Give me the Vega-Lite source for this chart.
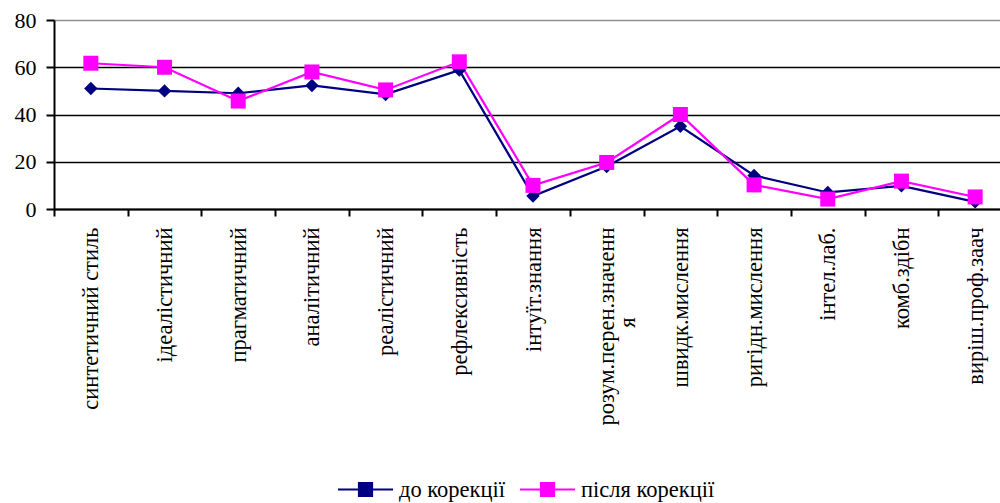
{
  "$schema": "https://vega.github.io/schema/vega-lite/v6.json",
  "width": 946,
  "height": 189,
  "autosize": "none",
  "padding": {"left": 54, "top": 20, "right": 0, "bottom": 294},
  "background": "white",
  "config": {
    "view": {"stroke": null},
    "font": "Liberation Serif"
  },
  "data": {
    "values": [
      {"cat": "синтетичний стиль", "series": "до корекції", "value": 51},
      {"cat": "синтетичний стиль", "series": "після корекції", "value": 61.7},
      {"cat": "ідеалістичний", "series": "до корекції", "value": 50},
      {"cat": "ідеалістичний", "series": "після корекції", "value": 60},
      {"cat": "прагматичний", "series": "до корекції", "value": 49},
      {"cat": "прагматичний", "series": "після корекції", "value": 45.7},
      {"cat": "аналітичний", "series": "до корекції", "value": 52.3},
      {"cat": "аналітичний", "series": "після корекції", "value": 58},
      {"cat": "реалістичний", "series": "до корекції", "value": 48.5},
      {"cat": "реалістичний", "series": "після корекції", "value": 50.4},
      {"cat": "рефлексивність", "series": "до корекції", "value": 58.8},
      {"cat": "рефлексивність", "series": "після корекції", "value": 62.3},
      {"cat": "інтуїт.знання", "series": "до корекції", "value": 5.5},
      {"cat": "інтуїт.знання", "series": "після корекції", "value": 10},
      {"cat": "розум.перен.значення", "series": "до корекції", "value": 18},
      {"cat": "розум.перен.значення", "series": "після корекції", "value": 19.7},
      {"cat": "швидк.мислення", "series": "до корекції", "value": 35},
      {"cat": "швидк.мислення", "series": "після корекції", "value": 40},
      {"cat": "ригідн.мислення", "series": "до корекції", "value": 14.2},
      {"cat": "ригідн.мислення", "series": "після корекції", "value": 10.2},
      {"cat": "інтел.лаб.", "series": "до корекції", "value": 7},
      {"cat": "інтел.лаб.", "series": "після корекції", "value": 4.2},
      {"cat": "комб.здібн", "series": "до корекції", "value": 9.8},
      {"cat": "комб.здібн", "series": "після корекції", "value": 11.8},
      {"cat": "виріш.проф.заач", "series": "до корекції", "value": 3},
      {"cat": "виріш.проф.заач", "series": "після корекції", "value": 5.1}
    ]
  },
  "encoding": {
    "x": {
      "field": "cat",
      "type": "nominal",
      "sort": null,
      "scale": {"range": [0, 958], "paddingInner": 0, "paddingOuter": 0},
      "axis": {
        "title": null,
        "tickBand": "extent",
        "domainColor": "black",
        "domainWidth": 2,
        "tickColor": "black",
        "tickWidth": 2,
        "tickSize": 7,
        "labelAngle": -90,
        "labelAlign": "right",
        "labelBaseline": "middle",
        "labelPadding": 11,
        "labelFont": "Liberation Serif",
        "labelFontSize": 22.5,
        "labelColor": "black",
        "labelLimit": 0,
        "labelLineHeight": 21,
        "labelExpr": "datum.label == 'розум.перен.значення' ? ['розум.перен.значенн', 'я\u00a0\u00a0\u00a0\u00a0\u00a0\u00a0\u00a0\u00a0\u00a0\u00a0\u00a0\u00a0\u00a0\u00a0\u00a0\u00a0\u200b'] : datum.label"
      }
    },
    "y": {
      "field": "value",
      "type": "quantitative",
      "scale": {"domain": [0, 80], "nice": false},
      "axis": {
        "title": null,
        "values": [0, 20, 40, 60, 80],
        "domainColor": "black",
        "domainWidth": 2,
        "tickColor": "black",
        "tickWidth": 2,
        "tickSize": 8,
        "labelPadding": 10,
        "labelFont": "Liberation Serif",
        "labelFontSize": 22,
        "labelColor": "black",
        "grid": true,
        "gridWidth": 1.7,
        "gridColor": {"condition": {"test": "datum.value == 80", "value": "#909090"}, "value": "black"}
      }
    },
    "color": {
      "field": "series",
      "type": "nominal",
      "scale": {"domain": ["до корекції", "після корекції"], "range": ["#000080", "#FF00FF"]},
      "legend": {
        "title": null,
        "orient": "none",
        "direction": "horizontal",
        "legendX": 283,
        "legendY": 441,
        "padding": 0,
        "symbolSize": 3025,
        "symbolStrokeWidth": 2,
        "labelFont": "Liberation Serif",
        "labelFontSize": 22.5,
        "labelColor": "black",
        "labelOffset": 5,
        "columnPadding": 10,
        "labelLimit": 0,
        "encode": {
          "symbols": {
            "update": {
              "shape": {"condition": {"test": "datum.value === 'до корекції'", "value": "M-1,0H1M-0.22,0L0,-0.22L0.22,0L0,0.22Z"}, "value": "M-1,0H1M-0.24,-0.24H0.24V0.24H-0.24Z"},
              "fill": {"condition": {"test": "datum.value === 'до корекції'", "value": "#000080"}, "value": "#FF00FF"},
              "stroke": {"condition": {"test": "datum.value === 'до корекції'", "value": "#000080"}, "value": "#FF00FF"},
              "strokeWidth": {"value": 2},
              "size": {"value": 3025},
              "opacity": {"value": 1}
            }
          }
        }
      }
    }
  },
  "layer": [
    {
      "mark": {"type": "line", "strokeWidth": 2.2}
    },
    {
      "transform": [{"filter": "datum.series === 'до корекції'"}],
      "mark": {"type": "point", "filled": true, "opacity": 1, "shape": "diamond", "size": 180}
    },
    {
      "transform": [{"filter": "datum.series === 'після корекції'"}],
      "mark": {"type": "point", "filled": true, "opacity": 1, "shape": "square", "size": 225}
    }
  ]
}
